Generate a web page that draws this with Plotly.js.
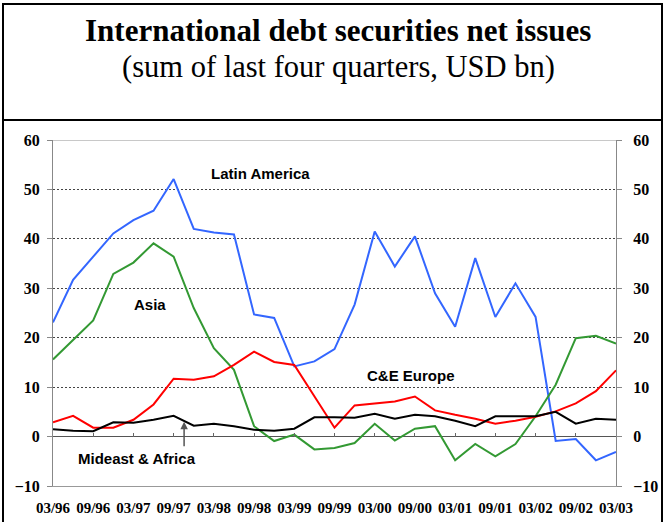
<!DOCTYPE html>
<html>
<head>
<meta charset="utf-8">
<script src="https://cdn.plot.ly/plotly-3.0.1.min.js"></script>
<style>
html,body{margin:0;padding:0;background:#fff;}
#wrap{position:relative;width:665px;height:522px;overflow:hidden;}
#chart{position:absolute;left:0;top:0;width:665px;height:522px;}
.frame{position:absolute;pointer-events:none;border:2px solid #000;box-sizing:border-box;}
</style>
</head>
<body>
<div id="wrap">
<div id="chart"></div>
<div class="frame" style="left:2px;top:3px;width:661px;height:530px;"></div>
<div class="frame" style="left:2px;top:3px;width:661px;height:118px;"></div>
</div>
<script>
const quarters = ["03/96","06/96","09/96","12/96","03/97","06/97","09/97","12/97","03/98","06/98","09/98","12/98",
  "03/99","06/99","09/99","12/99","03/00","06/00","09/00","12/00","03/01","06/01","09/01","12/01",
  "03/02","06/02","09/02","12/02","03/03"];
const tickLabels = ["03/96","09/96","03/97","09/97","03/98","09/98","03/99","09/99","03/00","09/00","03/01","09/01","03/02","09/02","03/03"];
const latinAmerica = [23.1,31.7,36.4,41.1,43.8,45.7,52.1,42.0,41.3,40.9,24.7,24.0,14.2,15.2,17.7,26.7,41.5,34.4,40.5,29.0,22.2,36.1,24.2,31.0,24.2,-0.9,-0.5,-4.8,-3.1];
const asia = [15.6,19.6,23.5,32.9,35.2,39.1,36.4,26.0,17.9,13.5,2.1,-0.9,0.4,-2.6,-2.3,-1.3,2.6,-0.8,1.6,2.1,-4.8,-1.5,-4.0,-1.5,4.1,10.5,19.9,20.4,18.8];
const ceEurope = [2.9,4.2,1.8,1.8,3.4,6.5,11.7,11.5,12.2,14.5,17.2,15.1,14.5,8.1,1.8,6.3,6.7,7.1,8.1,5.3,4.4,3.6,2.6,3.2,4.0,5.1,6.7,9.2,13.4];
const mideastAfrica = [1.5,1.2,1.1,2.9,2.8,3.4,4.2,2.2,2.6,2.1,1.4,1.2,1.6,3.9,3.9,3.8,4.6,3.6,4.4,4.1,3.2,2.1,4.1,4.1,4.1,5.0,2.6,3.6,3.4];
const yTicks = [-10,0,10,20,30,40,50,60];

const serif = "'Liberation Serif', 'Times New Roman', serif";
const sans = "'Liberation Sans', Arial, sans-serif";

function tr(y, color, name){
  return {x: quarters, y: y, type:'scatter', mode:'lines', name:name,
    line:{color:color, width:2}, hoverinfo:'skip'};
}
const data = [
  tr(latinAmerica,'#3366ff','Latin America'),
  tr(asia,'#339933','Asia'),
  tr(ceEurope,'#ff0000','C&E Europe'),
  tr(mideastAfrica,'#000000','Mideast & Africa'),
  {x: quarters, y: mideastAfrica, xaxis:'x2', yaxis:'y2', type:'scatter', mode:'lines', opacity:0, hoverinfo:'skip', showlegend:false}
];

const layout = {
  width:665, height:522,
  margin:{l:53, r:49, t:140, b:36, pad:0},
  paper_bgcolor:'#fff', plot_bgcolor:'#fff',
  showlegend:false,
  xaxis:{type:'category', range:[0,28], tickvals: tickLabels, ticktext: tickLabels,
    ticks:'', showgrid:false, zeroline:false,
    showline:true, linecolor:'#999', linewidth:1,
    tickfont:{family:serif, size:15, color:'#000', weight:'bold'},
    ticklabelstandoff:8},
  xaxis2:{type:'category', range:[0,28], overlaying:'x', anchor:'free', position:10/70,
    tickvals: tickLabels, showticklabels:false, ticks:'inside', ticklen:4, tickcolor:'#666', tickwidth:1,
    showgrid:false, zeroline:false, showline:false},
  yaxis:{range:[-10,60], tickvals:yTicks, ticks:'outside', ticklen:5, tickcolor:'#888', tickwidth:1,
    showline:true, linecolor:'#888', linewidth:1,
    showgrid:true, gridcolor:'#444', gridwidth:1, griddash:'2px,2px',
    zeroline:true, zerolinecolor:'#555', zerolinewidth:1,
    tickfont:{family:serif, size:16, color:'#000', weight:'bold'}, ticklabelstandoff:4},
  yaxis2:{range:[-10,60], tickvals:yTicks, overlaying:'y', side:'right', anchor:'x',
    ticks:'outside', ticklen:5, tickcolor:'#888', tickwidth:1,
    showline:true, linecolor:'#888', linewidth:1, showgrid:false, zeroline:false,
    tickfont:{family:serif, size:16, color:'#000', weight:'bold'}, ticklabelstandoff:8},
  shapes:[
    {type:'line', xref:'paper', yref:'y', x0:0, x1:1, y0:60, y1:60, line:{color:'#c8c8c8', width:2}, layer:'above'}
  ],
  annotations:[
    {text:'<b>International debt securities net issues</b>', xref:'paper', yref:'paper', x:0.507, y:(486-30)/346,
      showarrow:false, xanchor:'center', yanchor:'middle', font:{family:serif, size:31, color:'#000'}},
    {text:'(sum of last four quarters, USD bn)', xref:'paper', yref:'paper', x:0.507, y:(486-67)/346,
      showarrow:false, xanchor:'center', yanchor:'middle', font:{family:serif, size:30.5, color:'#000'}},
    {text:'<b>Latin America</b>', x:10.3, y:53.3, showarrow:false, font:{family:sans, size:15, color:'#000'}},
    {text:'<b>Asia</b>', x:4.83, y:26.7, showarrow:false, font:{family:sans, size:15, color:'#000'}},
    {text:'<b>C&E Europe</b>', x:17.8, y:12.3, showarrow:false, font:{family:sans, size:15, color:'#000'}},
    {text:'<b>Mideast & Africa</b>', x:4.16, y:-4.4, showarrow:false, font:{family:sans, size:15, color:'#000'}},
    {text:'', x:6.52, y:3.0, showarrow:true, ax:0, ay:26, arrowhead:2, arrowsize:1, arrowwidth:1.5, arrowcolor:'#555', standoff:0}
  ]
};
Plotly.newPlot('chart', data, layout, {staticPlot:true, displayModeBar:false});
</script>
</body>
</html>
